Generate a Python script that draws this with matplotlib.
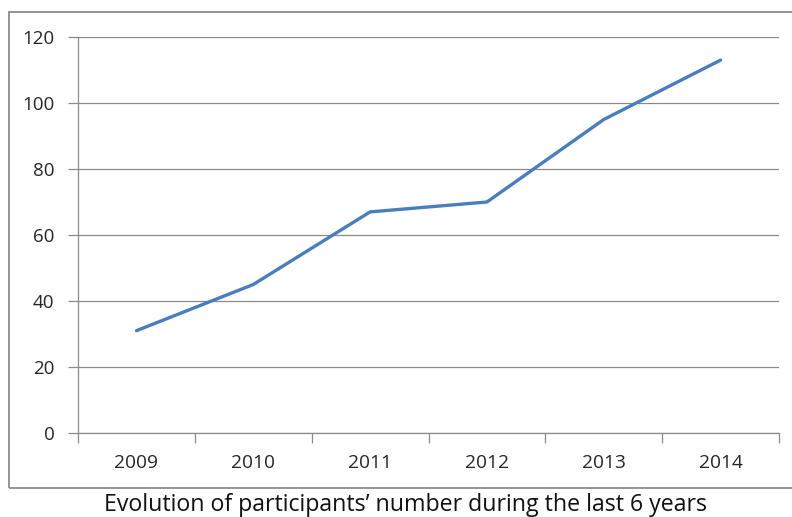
import matplotlib.pyplot as plt
import numpy as np
from matplotlib.patches import Rectangle

years = ['2009', '2010', '2011', '2012', '2013', '2014']
participants = [31, 45, 67, 70, 95, 113]
y_ticks = [0, 20, 40, 60, 80, 100, 120]
caption = 'Evolution of participants\u2019 number during the last 6 years'

plt.rcParams['font.family'] = ['Open Sans', 'DejaVu Sans']

fig = plt.figure(figsize=(7.92, 5.17), dpi=100)
ax = fig.add_axes([78/792, 1-433/517, (779-78)/792, (433-37)/517])

grey = '#8a8a8a'
x = np.arange(len(years))
ax.plot(x, participants, color='#4a7ebb', lw=2.4, solid_capstyle='round', zorder=3)

ax.set_xlim(-0.5, len(years) - 0.5)
ax.set_ylim(0, 120)
ax.set_yticks(y_ticks)
ax.set_yticklabels([str(v) for v in y_ticks], fontsize=13.5, color='#262626')
ax.yaxis.grid(True, color=grey, lw=0.9)
ax.set_axisbelow(True)

# category boundary ticks, labels in the middle
ax.set_xticks(np.arange(-0.5, len(years), 1.0))
ax.set_xticklabels([])
ax.set_xticks(x, minor=True)
ax.set_xticklabels(years, minor=True, fontsize=13.8, color='#262626')
ax.tick_params(axis='x', which='major', length=7, color=grey, width=0.9)
ax.tick_params(axis='x', which='minor', length=0, pad=15)
ax.tick_params(axis='y', length=7, color=grey, width=0.9, pad=10)

for s in ['top', 'right']:
    ax.spines[s].set_visible(False)
for s in ['left', 'bottom']:
    ax.spines[s].set_color(grey)
    ax.spines[s].set_linewidth(0.9)

# chart frame
fig.patches.append(Rectangle((9/792, 1-488/517), 790/792, (488-12)/517,
                             transform=fig.transFigure, fill=False,
                             edgecolor='#8c8c8c', lw=1.3))

fig.text(405/792, 1-505/517, caption, ha='center', va='center', fontsize=16.7, color='#111111')

fig.savefig('out.png', dpi=100)
